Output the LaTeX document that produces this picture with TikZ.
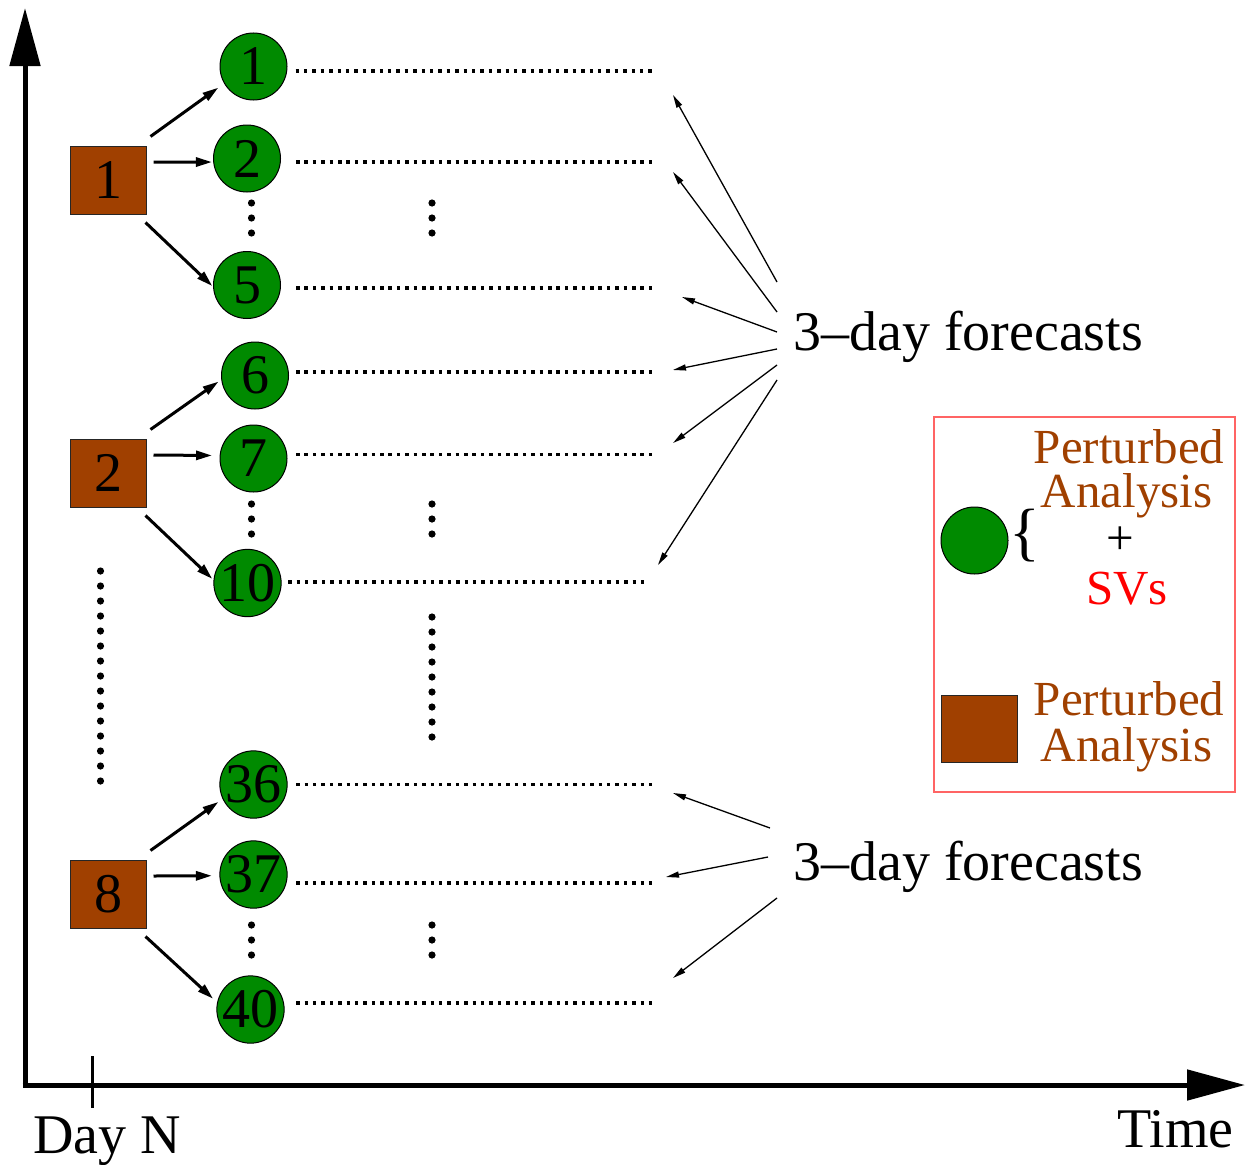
\documentclass[tikz,border=0pt]{standalone}
\usepackage{fontspec}
\setmainfont{Liberation Serif}
\usetikzlibrary{arrows.meta}
\definecolor{anbrown}{RGB}{160,64,0}
\definecolor{svgreen}{RGB}{0,138,0}
\definecolor{framered}{RGB}{255,100,100}

\begin{document}
\begin{tikzpicture}[x=1pt,y=-1pt,
  member/.style={circle, draw=black, line width=1pt, fill=svgreen, minimum size=67pt,
    inner sep=0pt, font=\fontsize{56}{60}\selectfont},
  analysis/.style={rectangle, draw=black!85, line width=1pt, fill=anbrown, minimum width=76pt,
    minimum height=68pt, inner sep=0pt, font=\fontsize{56}{60}\selectfont},
  bigtext/.style={inner sep=0pt, font=\fontsize{56}{60}\selectfont},
  legtext/.style={inner sep=0pt, font=\fontsize{49}{52}\selectfont},
  timeaxis/.style={line width=5pt, -{Triangle[length=58pt,width=30pt]}},
  spawn/.style={line width=3pt, -{Triangle[length=16pt,width=9pt]}},
  pointer/.style={line width=1.3pt, -{Triangle[length=13pt,width=6pt]}},
  dotrow/.style={line width=3.5pt, dash pattern=on 3.5pt off 4.9pt},
]
\useasboundingbox (0,0) rectangle (1246,1164);

% axes
\draw[timeaxis] (25,1087.5) -- (25,8);
\draw[timeaxis] (22.5,1085) -- (1245,1085);
\draw[line width=3pt] (92.5,1056) -- (92.5,1108);
\node[bigtext, anchor=base west] (dayn) at (33,1153) {Day N};
\node[bigtext, anchor=base west] (timelbl) at (1117,1147) {Time};

% perturbed analyses
\node[analysis] (sq1) at (108,180) {1};
\node[analysis] (sq2) at (108,473) {2};
\node[analysis] (sq8) at (108,894) {8};

% ensemble members
\node[member] (c1)  at (253.5,66.5)  {1};
\node[member] (c2)  at (247,158.5)   {2};
\node[member] (c5)  at (247,285)     {5};
\node[member] (c6)  at (255,375.5)   {6};
\node[member] (c7)  at (253.5,458.5) {7};
\node[member] (c10) at (247.5,583)   {10};
\node[member] (c36) at (253.5,784.5) {36};
\node[member] (c37) at (253.5,874.5) {37};
\node[member] (c40) at (250.5,1009.5) {40};

% analysis -> members
\draw[spawn, shorten >=7pt]   ([shift={(4,-9)}]sq1.north east) -- (c1.210);
\draw[spawn, shorten >=1.2pt] ([shift={(7,-18)}]sq1.east) -- (c2.186);
\draw[spawn, shorten >=1pt]   ([shift={(-1,8)}]sq1.south east) -- (c5.183);
\draw[spawn, shorten >=3.3pt] ([shift={(4,-9)}]sq2.north east) -- (c6.187);
\draw[spawn, shorten >=7.6pt] ([shift={(7,-18)}]sq2.east) -- (c7.175);
\draw[spawn, shorten >=1.6pt] ([shift={(-1,8)}]sq2.south east) -- (c10.175);
\draw[spawn, shorten >=5pt]   ([shift={(4,-9)}]sq8.north east) -- (c36.205);
\draw[spawn, shorten >=7.5pt] ([shift={(7,-18)}]sq8.east) -- (c37.182);
\draw[spawn, shorten >=5.4pt] ([shift={(-1,8)}]sq8.south east) -- (c40.168);

% forecast trajectories
\draw[dotrow] ([shift={(8,4.5)}]c1.east) -- ++(356,0);
\draw[dotrow] ([shift={(15,3.5)}]c2.east) -- ++(356,0);
\draw[dotrow] ([shift={(15,3)}]c5.east) -- ++(356,0);
\draw[dotrow] ([shift={(7,-3.5)}]c6.east) -- ++(356,0);
\draw[dotrow] ([shift={(8.5,-4)}]c7.east) -- ++(356,0);
\draw[dotrow] ([shift={(6.5,-1)}]c10.east) -- ++(356,0);
\draw[dotrow] ([shift={(8.5,0)}]c36.east) -- ++(356,0);
\draw[dotrow] ([shift={(8.5,8.5)}]c37.east) -- ++(356,0);
\draw[dotrow] ([shift={(11.5,-6.5)}]c40.east) -- ++(356,0);

% ellipsis dots
\foreach \x in {251.5,432} {
  \foreach \y in {203,218,233, 504,519,534, 925,940,955}
    \fill (\x,\y) circle (3.6);
}
\foreach \k in {0,...,8} \fill (432,617+15*\k) circle (3.6);
\foreach \k in {0,...,14} \fill (100.5,571+15*\k) circle (3.6);

% labels with pointers
\node[bigtext, anchor=base west] (fcA) at (793,350) {3–day forecasts};
\coordinate (tA1) at (673,95);
\coordinate (tA2) at (673,172);
\coordinate (tA3) at (682,297);
\coordinate (tA4) at (673,370);
\coordinate (tA5) at (673,443);
\coordinate (tA6) at (658,565);
\draw[pointer] ([shift={(-16,-68)}]fcA.base west) -- (tA1);
\draw[pointer] ([shift={(-16,-38)}]fcA.base west) -- (tA2);
\draw[pointer] ([shift={(-16,-18)}]fcA.base west) -- (tA3);
\draw[pointer] ([shift={(-16,-1)}]fcA.base west) -- (tA4);
\draw[pointer] ([shift={(-16,15)}]fcA.base west) -- (tA5);
\draw[pointer] ([shift={(-16,30)}]fcA.base west) -- (tA6);

\node[bigtext, anchor=base west] (fcB) at (793,880) {3–day forecasts};
\coordinate (tB1) at (673,793);
\coordinate (tB2) at (666,877);
\coordinate (tB3) at (673,978);
\draw[pointer] ([shift={(-23,-52)}]fcB.base west) -- (tB1);
\draw[pointer] ([shift={(-25,-23)}]fcB.base west) -- (tB2);
\draw[pointer] ([shift={(-16,18)}]fcB.base west) -- (tB3);

% legend
\node[draw=framered, line width=1.2pt, minimum width=301pt, minimum height=375pt,
  inner sep=0pt] (legend) at (1084.5,604.5) {};
\node[member] (lc) at (974.5,540.5) {};
\node[inner sep=0pt, font=\fontsize{64}{64}\selectfont] (brace) at (1025,536) {\{};
\node[legtext, text=anbrown, anchor=base] (l1a) at (1129,463) {Perturbed};
\node[legtext, text=anbrown, anchor=base] (l1b) at (1126.5,507) {Analysis};
\node[legtext] (l1c) at (1120,541) {+};
\node[legtext, text=red, anchor=base] (l1d) at (1127,604) {SVs};
\node[analysis, minimum height=67pt] (ls) at (979,728.5) {};
\node[legtext, text=anbrown, anchor=base] (l2a) at (1129,715) {Perturbed};
\node[legtext, text=anbrown, anchor=base] (l2b) at (1126.5,761) {Analysis};
\end{tikzpicture}
\end{document}
